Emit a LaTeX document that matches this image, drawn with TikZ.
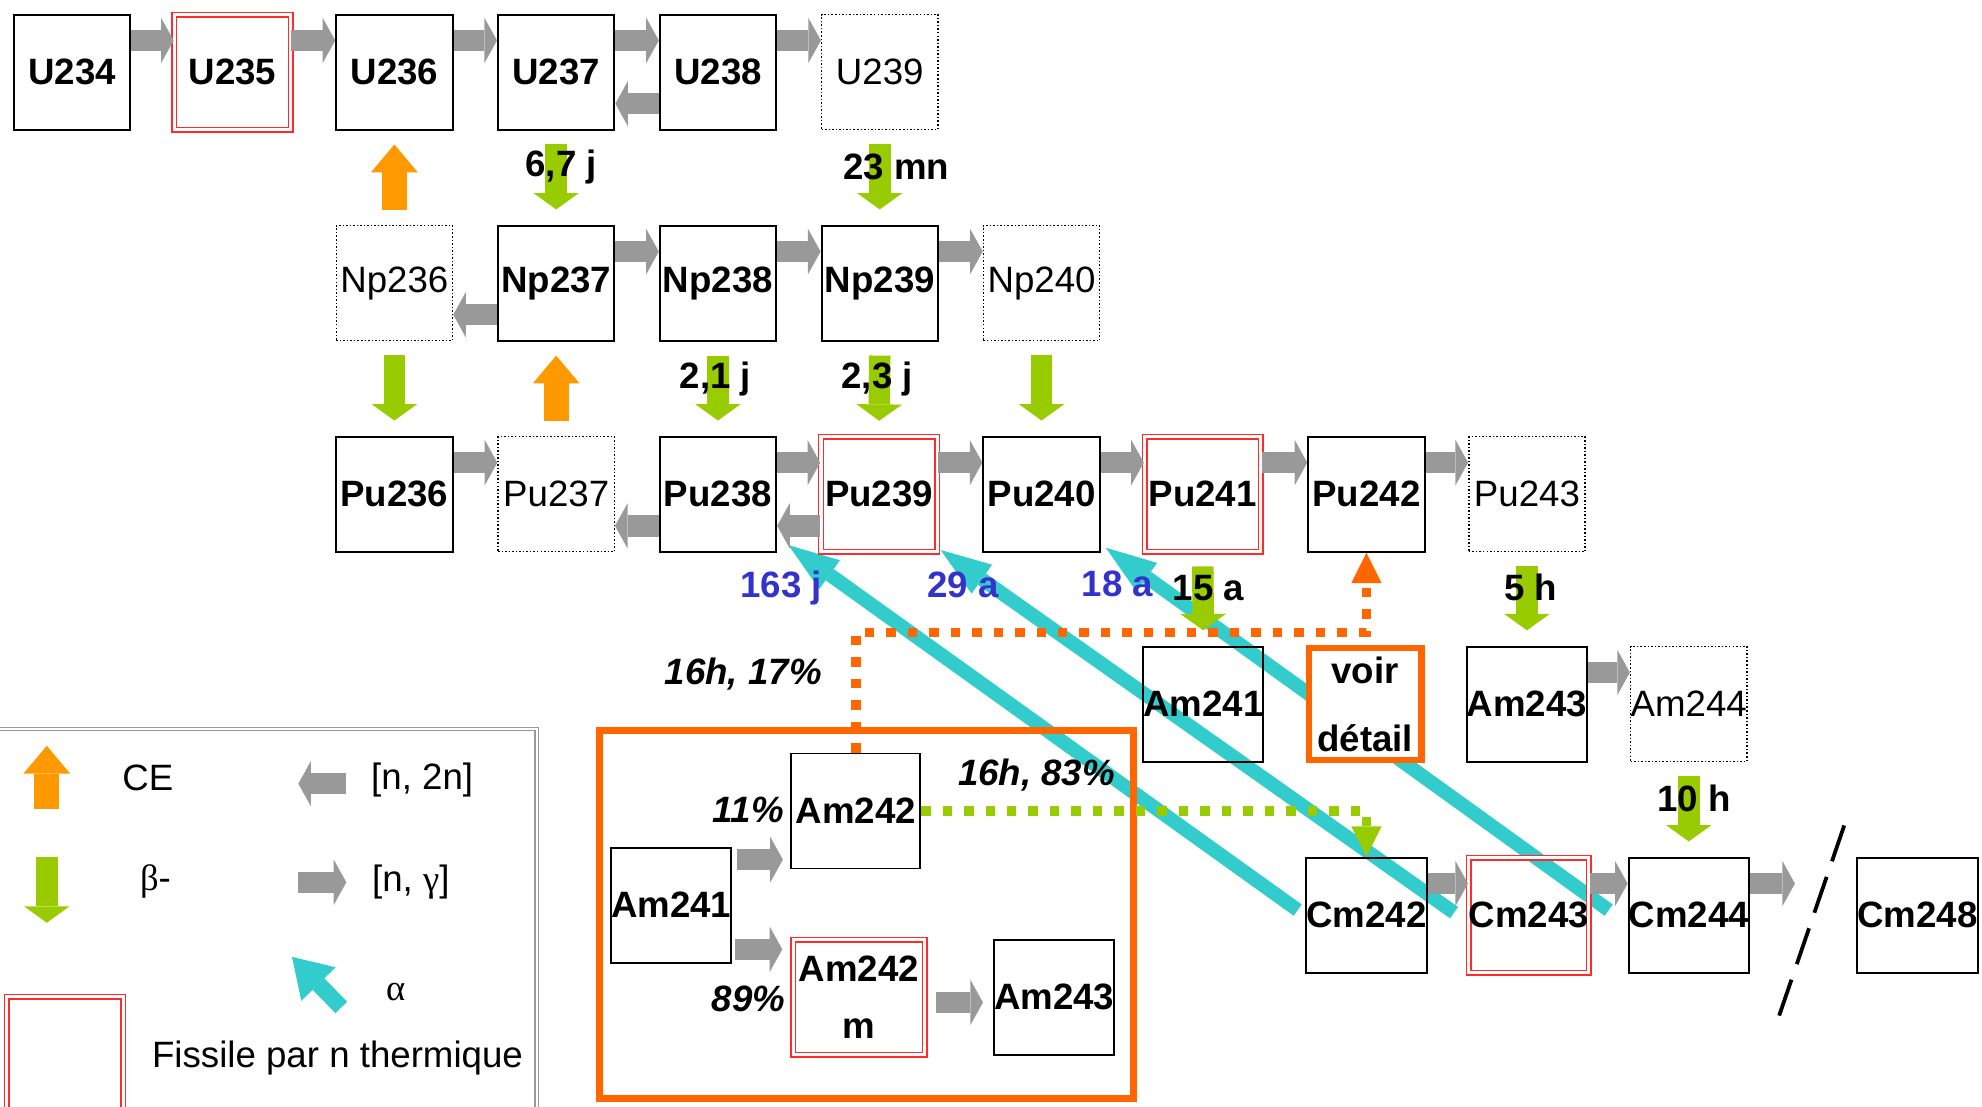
\documentclass[tikz,border=0pt]{standalone}
\usepackage{fontspec}
\setmainfont{Liberation Sans}
\newfontfamily\grk{Liberation Serif}
\usetikzlibrary{arrows.meta,calc}
\definecolor{gr}{HTML}{999999}
\definecolor{gn}{HTML}{99CC00}
\definecolor{ora}{HTML}{FF9900}
\definecolor{orb}{HTML}{FF6600}
\definecolor{cy}{HTML}{33CCCC}
\definecolor{bl}{HTML}{3333CC}
\definecolor{rd}{HTML}{FF2A2A}
\pgfdeclarelayer{bg}
\pgfsetlayers{bg,main}
\begin{document}
\begin{tikzpicture}[x=1pt,y=-1pt,
  fnt/.style={font=\bfseries\fontsize{29}{34}\selectfont},
  box/.style={draw, line width=1.6pt, minimum width=92pt, minimum height=91pt, inner sep=0pt, fnt},
  fis/.style={box, draw=rd, line width=1.2pt, double=white, double distance=2.4pt},
  dbox/.style={box, line width=1.1pt, dash pattern=on 1.2pt off 1.6pt, font=\fontsize{29}{34}\selectfont},
  ng/.style={draw=gr, line width=17pt, -{Triangle[length=10pt,width=36pt,line width=0pt]}},
  bm/.style={draw=gn, line width=17pt, -{Triangle[length=13pt,width=36pt,line width=0pt]}},
  ce/.style={draw=ora, line width=20pt, -{Triangle[length=22pt,width=37pt,line width=0pt]}},
  al/.style={draw=cy, line width=11pt, -{Triangle[length=40pt,width=28pt,line width=0pt]}},
  odot/.style={draw=orb, line width=7.5pt, dash pattern=on 7.5pt off 9.5pt, -{Triangle[length=24pt,width=24pt,line width=0pt]}},
  gdot/.style={draw=gn, line width=7.5pt, dash pattern=on 7.5pt off 9.5pt, -{Triangle[length=24pt,width=24pt,line width=0pt]}},
  lab/.style={fnt, inner sep=0pt},
  blab/.style={lab, text=bl},
  ilab/.style={font=\bfseries\itshape\fontsize{29}{34}\selectfont, inner sep=0pt},
  leg/.style={font=\fontsize{29}{34}\selectfont, inner sep=0pt},
]
\useasboundingbox (0,0) rectangle (1568,875);

% ---- row 1
\node[box] (U234) at (57,57) {U234};
\node[fis] (U235) at (184,57) {U235};
\node[box] (U236) at (312,57) {U236};
\node[box] (U237) at (440,57) {U237};
\node[box] (U238) at (568,57) {U238};
\node[dbox] (U239) at (696,57) {U239};
% ---- row 2
\node[dbox] (Np236) at (312,224) {Np236};
\node[box] (Np237) at (440,224) {Np237};
\node[box] (Np238) at (568,224) {Np238};
\node[box] (Np239) at (696,224) {Np239};
\node[dbox] (Np240) at (824,224) {Np240};
% ---- row 3
\node[box] (Pu236) at (312,391) {Pu236};
\node[dbox] (Pu237) at (440,391) {Pu237};
\node[box] (Pu238) at (568,391) {Pu238};
\node[fis] (Pu239) at (695.5,391) {Pu239};
\node[box] (Pu240) at (824,391) {Pu240};
\node[fis] (Pu241) at (951.5,391) {Pu241};
\node[box] (Pu242) at (1081,391) {Pu242};
\node[dbox] (Pu243) at (1208,391) {Pu243};
% ---- row 4
\node[box] (Am241) at (952,557) {Am241};
\node[draw=orb, fill=white, line width=5pt, minimum width=89pt, minimum height=89pt, inner sep=0pt, align=center, font=\bfseries\fontsize{29}{54}\selectfont] (voir) at (1080,557) {voir\\détail};
\node[box] (Am243) at (1208,557) {Am243};
\node[dbox, text depth=-10pt] (Am244) at (1336,557) {Am244};
% ---- row 5
\node[box] (Cm242) at (1081,724) {Cm242};
\node[fis] (Cm243) at (1209.5,724) {Cm243};
\node[box] (Cm244) at (1336,724) {Cm244};
\node[box] (Cm248) at (1517,724) {Cm248};
\coordinate (cmend) at (1420,699);

% ---- detail box
\node[draw=orb, line width=5.5pt, minimum width=423pt, minimum height=291pt, inner sep=0pt] (detail) at (685.5,723.5) {};
\node[box] (Am241d) at (531,716) {Am241};
\node[box, minimum width=102pt, line width=1.3pt] (Am242d) at (677,641.5) {Am242};
\node[fis, minimum width=104pt, align=center, font=\bfseries\fontsize{29}{45}\selectfont] (Am242m) at (679.5,789) {Am242\\m};
\node[box] (Am243d) at (834,789) {Am243};

% ---- alpha arrows (background)
\begin{pgfonlayer}{bg}
\draw[al] ([xshift=-6pt,yshift=4pt]Cm242.west) -- ([xshift=9pt,yshift=6pt]Pu238.south east);
\draw[al] ([xshift=-11pt,yshift=2pt]Cm243.west) -- ([xshift=2pt,yshift=2pt]Pu239.south east);
\draw[al] ([xshift=-15pt,yshift=4pt]Cm244.west) -- ([xshift=4pt,yshift=4pt]Pu240.south east);
\end{pgfonlayer}

% ---- [n,gamma] arrows
\foreach \a/\b in {U234/U235,U235/U236,U236/U237,U237/U238,U238/U239,
  Np237/Np238,Np238/Np239,Np239/Np240,
  Pu236/Pu237,Pu238/Pu239,Pu239/Pu240,Pu240/Pu241,Pu241/Pu242,Pu242/Pu243,
  Am243/Am244,Cm242/Cm243,Cm243/Cm244}
  \draw[ng] ([yshift=25pt]\a.east) -- ([yshift=25pt]\b.west);
\draw[ng] ([yshift=25pt]Cm244.east) -- (cmend);
% ---- [n,2n] arrows
\foreach \a/\b in {U238/U237,Np237/Np236,Pu239/Pu238,Pu238/Pu237}
  \draw[ng] ([yshift=-25pt]\a.west) -- ([yshift=-25pt]\b.east);
% ---- detail arrows
\draw[ng] ([xshift=4pt,yshift=36pt]Am241d.east) -- ([xshift=-6pt,yshift=-38.5pt]Am242d.west);
\draw[ng] ([xshift=2pt,yshift=-35pt]Am241d.east) -- ([xshift=-8pt,yshift=38pt]Am242m.west);
\draw[ng] ([xshift=8pt,yshift=-4pt]Am242m.east) -- ([xshift=-8pt,yshift=-4pt]Am243d.west);

% ---- beta- arrows
\foreach \a/\b in {U237/Np237,U239/Np239,Np236/Pu236,Np238/Pu238,Np239/Pu239,Np240/Pu240,
  Pu241/Am241,Pu243/Am243,Am244/Cm244}
  \draw[bm] ([yshift=-11pt]\a.south) -- ([yshift=12pt]\b.north);
% ---- CE arrows
\draw[ce] ([yshift=12pt]Np236.north) -- ([yshift=-11pt]U236.south);
\draw[ce] ([yshift=12pt]Pu237.north) -- ([yshift=-11pt]Np237.south);

% ---- dotted links
\draw[odot] (Am242d.north) -- ++(0,-95) -| (Pu242.south);
\draw[gdot] (Am242d.east) -| (Cm242.north);

% ---- labels
\node[lab] (l1) at (444,132) {6,7 j};
\node[lab] (l2) at (709,132) {23 mn};
\node[lab] (l3) at (566,300) {2,1 j};
\node[lab] (l4) at (694,300) {2,3 j};
\node[lab] (l5) at (956,465) {15 a};
\node[lab] (l6) at (1211,465) {5 h};
\node[lab] (l7) at (1340,632) {10 h};
\node[blab] (b1) at (618,465) {163 j};
\node[blab] (b2) at (762,463) {29 a};
\node[blab] (b3) at (884,462) {18 a};
\node[ilab] (i1) at (588,533) {16h, 17\%};
\node[ilab] (i2) at (820,613) {16h, 83\%};
\node[ilab] (i3) at (592,641) {11\%};
\node[ilab] (i4) at (592,790) {89\%};

% ---- break mark
\draw[line width=3pt, dash pattern=on 30pt off 13pt] (1459,653) -- (1407,805);

% ---- legend
\draw[gr, line width=1pt, double=white, double distance=1.5pt] (-10,576.5) rectangle (424.5,900);
\draw[ce] (37,640) -- (37,590);
\draw[bm] (37,678) -- (37,730);
\draw[ng] (274,620) -- (236,620);
\draw[ng] (236,698) -- (274,698);
\draw[cy, line width=13pt, -{Triangle[length=30pt,width=38pt,line width=0pt]}] (270,797) -- (231,757);
\draw[rd, line width=1.2pt, double=white, double distance=2.4pt] (5.5,788.5) rectangle (97.5,900);
\node[leg] (t1) at (117,615) {CE};
\node[leg] (t2) at (123,697) {{\grk β}-};
\node[leg] (t3) at (334,617) {[n, 2n]};
\node[leg] (t4) at (325,698) {[n, {\grk γ}]};
\node[leg] (t5) at (313,785) {{\grk α}};
\node[leg] (t6) at (267,837) {Fissile par n thermique};
\end{tikzpicture}
\end{document}
